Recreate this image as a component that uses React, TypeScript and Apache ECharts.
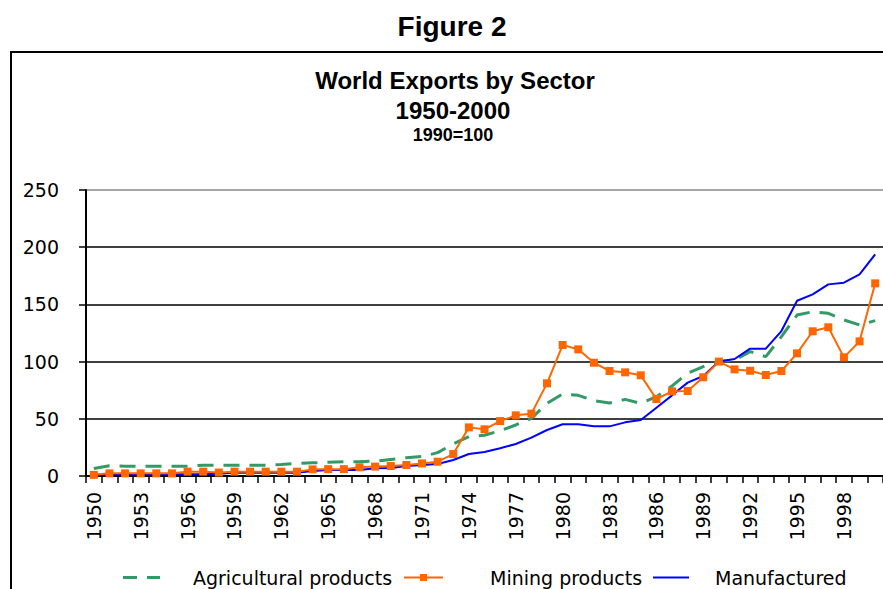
import React, { useEffect, useRef } from "react";
import * as echarts from "echarts";

const years = [
  "1950", "1951", "1952", "1953", "1954", "1955", "1956", "1957", "1958", "1959",
  "1960", "1961", "1962", "1963", "1964", "1965", "1966", "1967", "1968", "1969",
  "1970", "1971", "1972", "1973", "1974", "1975", "1976", "1977", "1978", "1979",
  "1980", "1981", "1982", "1983", "1984", "1985", "1986", "1987", "1988", "1989",
  "1990", "1991", "1992", "1993", "1994", "1995", "1996", "1997", "1998", "1999",
  "2000",
];

const agricultural = [
  6.5, 9, 8.5, 8.5, 8.5, 8.5, 8.5, 9.5, 9.5, 9.5,
  9.5, 9.5, 10, 11, 11.5, 12, 12.5, 12.5, 13, 14.5,
  16, 17, 20.4, 28, 34.4, 35.6, 39.6, 44.6, 50.4, 63.5,
  71.7, 70.5, 65.8, 63.8, 67, 63.5, 69.3, 78.7, 89.8, 95.6,
  100, 101.4, 108.7, 104.3, 121.8, 140.7, 143.6, 142.2, 136.4, 132,
  135.8,
];

const mining = [
  1, 2.3, 2.3, 2.3, 2.3, 2.3, 3.8, 3.8, 3, 3.8,
  3.8, 3.8, 3.8, 3.8, 5.8, 6, 6, 7.6, 8.2, 8.7,
  9.6, 11, 12.5, 19.2, 42.5, 40.8, 48, 53, 54.5, 81,
  114.5, 110.7, 99, 91.8, 90.6, 88, 67.3, 74, 74.3, 86.3,
  100, 93.2, 92, 88.3, 91.8, 107.2, 126.5, 130, 103.7, 117.7,
  168.4,
];

const manufactured = [
  1, 1.5, 1.5, 1.5, 1.5, 1.5, 1.5, 1.5, 2, 2.9,
  2.9, 2.9, 2.9, 2.9, 4.3, 5.2, 5.2, 5.2, 6.7, 7,
  8.7, 9.6, 10.5, 14, 19.2, 21, 24.2, 28, 33.5, 40.2,
  45.2, 45.2, 43.4, 43.4, 46.9, 49, 59.7, 70.5, 81.6, 87.4,
  100, 102.3, 111.3, 111.3, 126.7, 153.2, 158.8, 167.5, 169, 176.3,
  193.8,
];

const yTicks = { min: 0, max: 250, interval: 50 };

const seriesNames = ["Agricultural products", "Mining products", "Manufactured"];

const FONT = "'DejaVu Sans', Verdana, sans-serif";
const TFONT = "'Liberation Sans', Arial, sans-serif";

export default function App() {
  const ref = useRef<HTMLDivElement>(null);

  useEffect(() => {
    if (!ref.current) return;
    const chart = echarts.init(ref.current, null, { renderer: "svg" });
    const legendText = (pad: number) => ({
      fontFamily: FONT,
      fontSize: 19,
      color: "#000",
      padding: [0, 0, 0, pad],
    });
    chart.setOption({
      animation: false,
      backgroundColor: "#fff",
      title: [
        {
          text: "Figure 2",
          left: 452,
          top: 12,
          textAlign: "center",
          padding: 0,
          textStyle: { fontFamily: TFONT, fontWeight: "bold", fontSize: 28, color: "#000" },
        },
        {
          text: "World Exports by Sector",
          left: 455,
          top: 68,
          textAlign: "center",
          padding: 0,
          textStyle: { fontFamily: TFONT, fontWeight: "bold", fontSize: 24, color: "#000" },
        },
        {
          text: "1950-2000",
          left: 453,
          top: 98,
          textAlign: "center",
          padding: 0,
          textStyle: { fontFamily: TFONT, fontWeight: "bold", fontSize: 24, color: "#000" },
        },
        {
          text: "1990=100",
          left: 453,
          top: 126,
          textAlign: "center",
          padding: 0,
          textStyle: { fontFamily: TFONT, fontWeight: "bold", fontSize: 18, color: "#000" },
        },
      ],
      graphic: [
        {
          type: "rect",
          z: -10,
          shape: { x: 11, y: 52, width: 900, height: 600 },
          style: { fill: "none", stroke: "#000", lineWidth: 2 },
        },
      ],
      legend: [
        {
          data: [{ name: seriesNames[0], icon: "path://M0,0H14V3H0Z M24,0H37V3H24Z" }],
          left: 123,
          top: 568,
          padding: 0,
          itemWidth: 37,
          itemHeight: 14,
          textStyle: legendText(28),
        },
        {
          data: [{ name: seriesNames[1], icon: "path://M0,5H39V7H0Z M16,2.5H23V9.5H16Z" }],
          left: 404,
          top: 568,
          padding: 0,
          itemWidth: 39,
          itemHeight: 14,
          textStyle: legendText(42),
        },
        {
          data: [{ name: seriesNames[2], icon: "path://M0,0H36V2H0Z" }],
          left: 653,
          top: 568,
          padding: 0,
          itemWidth: 36,
          itemHeight: 14,
          textStyle: legendText(21),
        },
      ],
      grid: { left: 86, top: 190, width: 802, height: 286, containLabel: false },
      xAxis: {
        type: "category",
        data: years,
        boundaryGap: true,
        axisLine: { show: true, lineStyle: { color: "#000", width: 2 } },
        axisTick: { show: true, interval: 0, length: 7, inside: false, lineStyle: { color: "#000", width: 1.5 } },
        axisLabel: {
          interval: 2,
          rotate: 90,
          margin: 16,
          fontFamily: FONT,
          fontSize: 19,
          color: "#000",
        },
        splitLine: { show: false },
      },
      yAxis: {
        type: "value",
        min: yTicks.min,
        max: yTicks.max,
        interval: yTicks.interval,
        axisLine: { show: true, lineStyle: { color: "#000", width: 2 } },
        axisTick: { show: true, length: 7, lineStyle: { color: "#000", width: 1.5 } },
        axisLabel: { margin: 27, fontFamily: FONT, fontSize: 19, color: "#000" },
        splitLine: {
          show: true,
          lineStyle: { color: ["#000", "#000", "#000", "#000", "#000", "#888"], width: 1.5 },
        },
      },
      series: [
        {
          name: seriesNames[0],
          type: "line",
          data: agricultural,
          symbol: "none",
          z: 2,
          lineStyle: { color: "#339966", width: 3, type: [16, 10] },
          itemStyle: { color: "#339966" },
        },
        {
          name: seriesNames[1],
          type: "line",
          data: mining,
          symbol: "rect",
          symbolSize: 8,
          z: 4,
          lineStyle: { color: "#FF6600", width: 2 },
          itemStyle: { color: "#FF6600" },
        },
        {
          name: seriesNames[2],
          type: "line",
          data: manufactured,
          symbol: "none",
          z: 3,
          lineStyle: { color: "#0000FF", width: 2 },
          itemStyle: { color: "#0000FF" },
        },
      ],
    });
    return () => chart.dispose();
  }, []);

  return (
    <div
      ref={ref}
      style={{ position: "absolute", left: 0, top: 0, width: 883, height: 589 }}
    />
  );
}
